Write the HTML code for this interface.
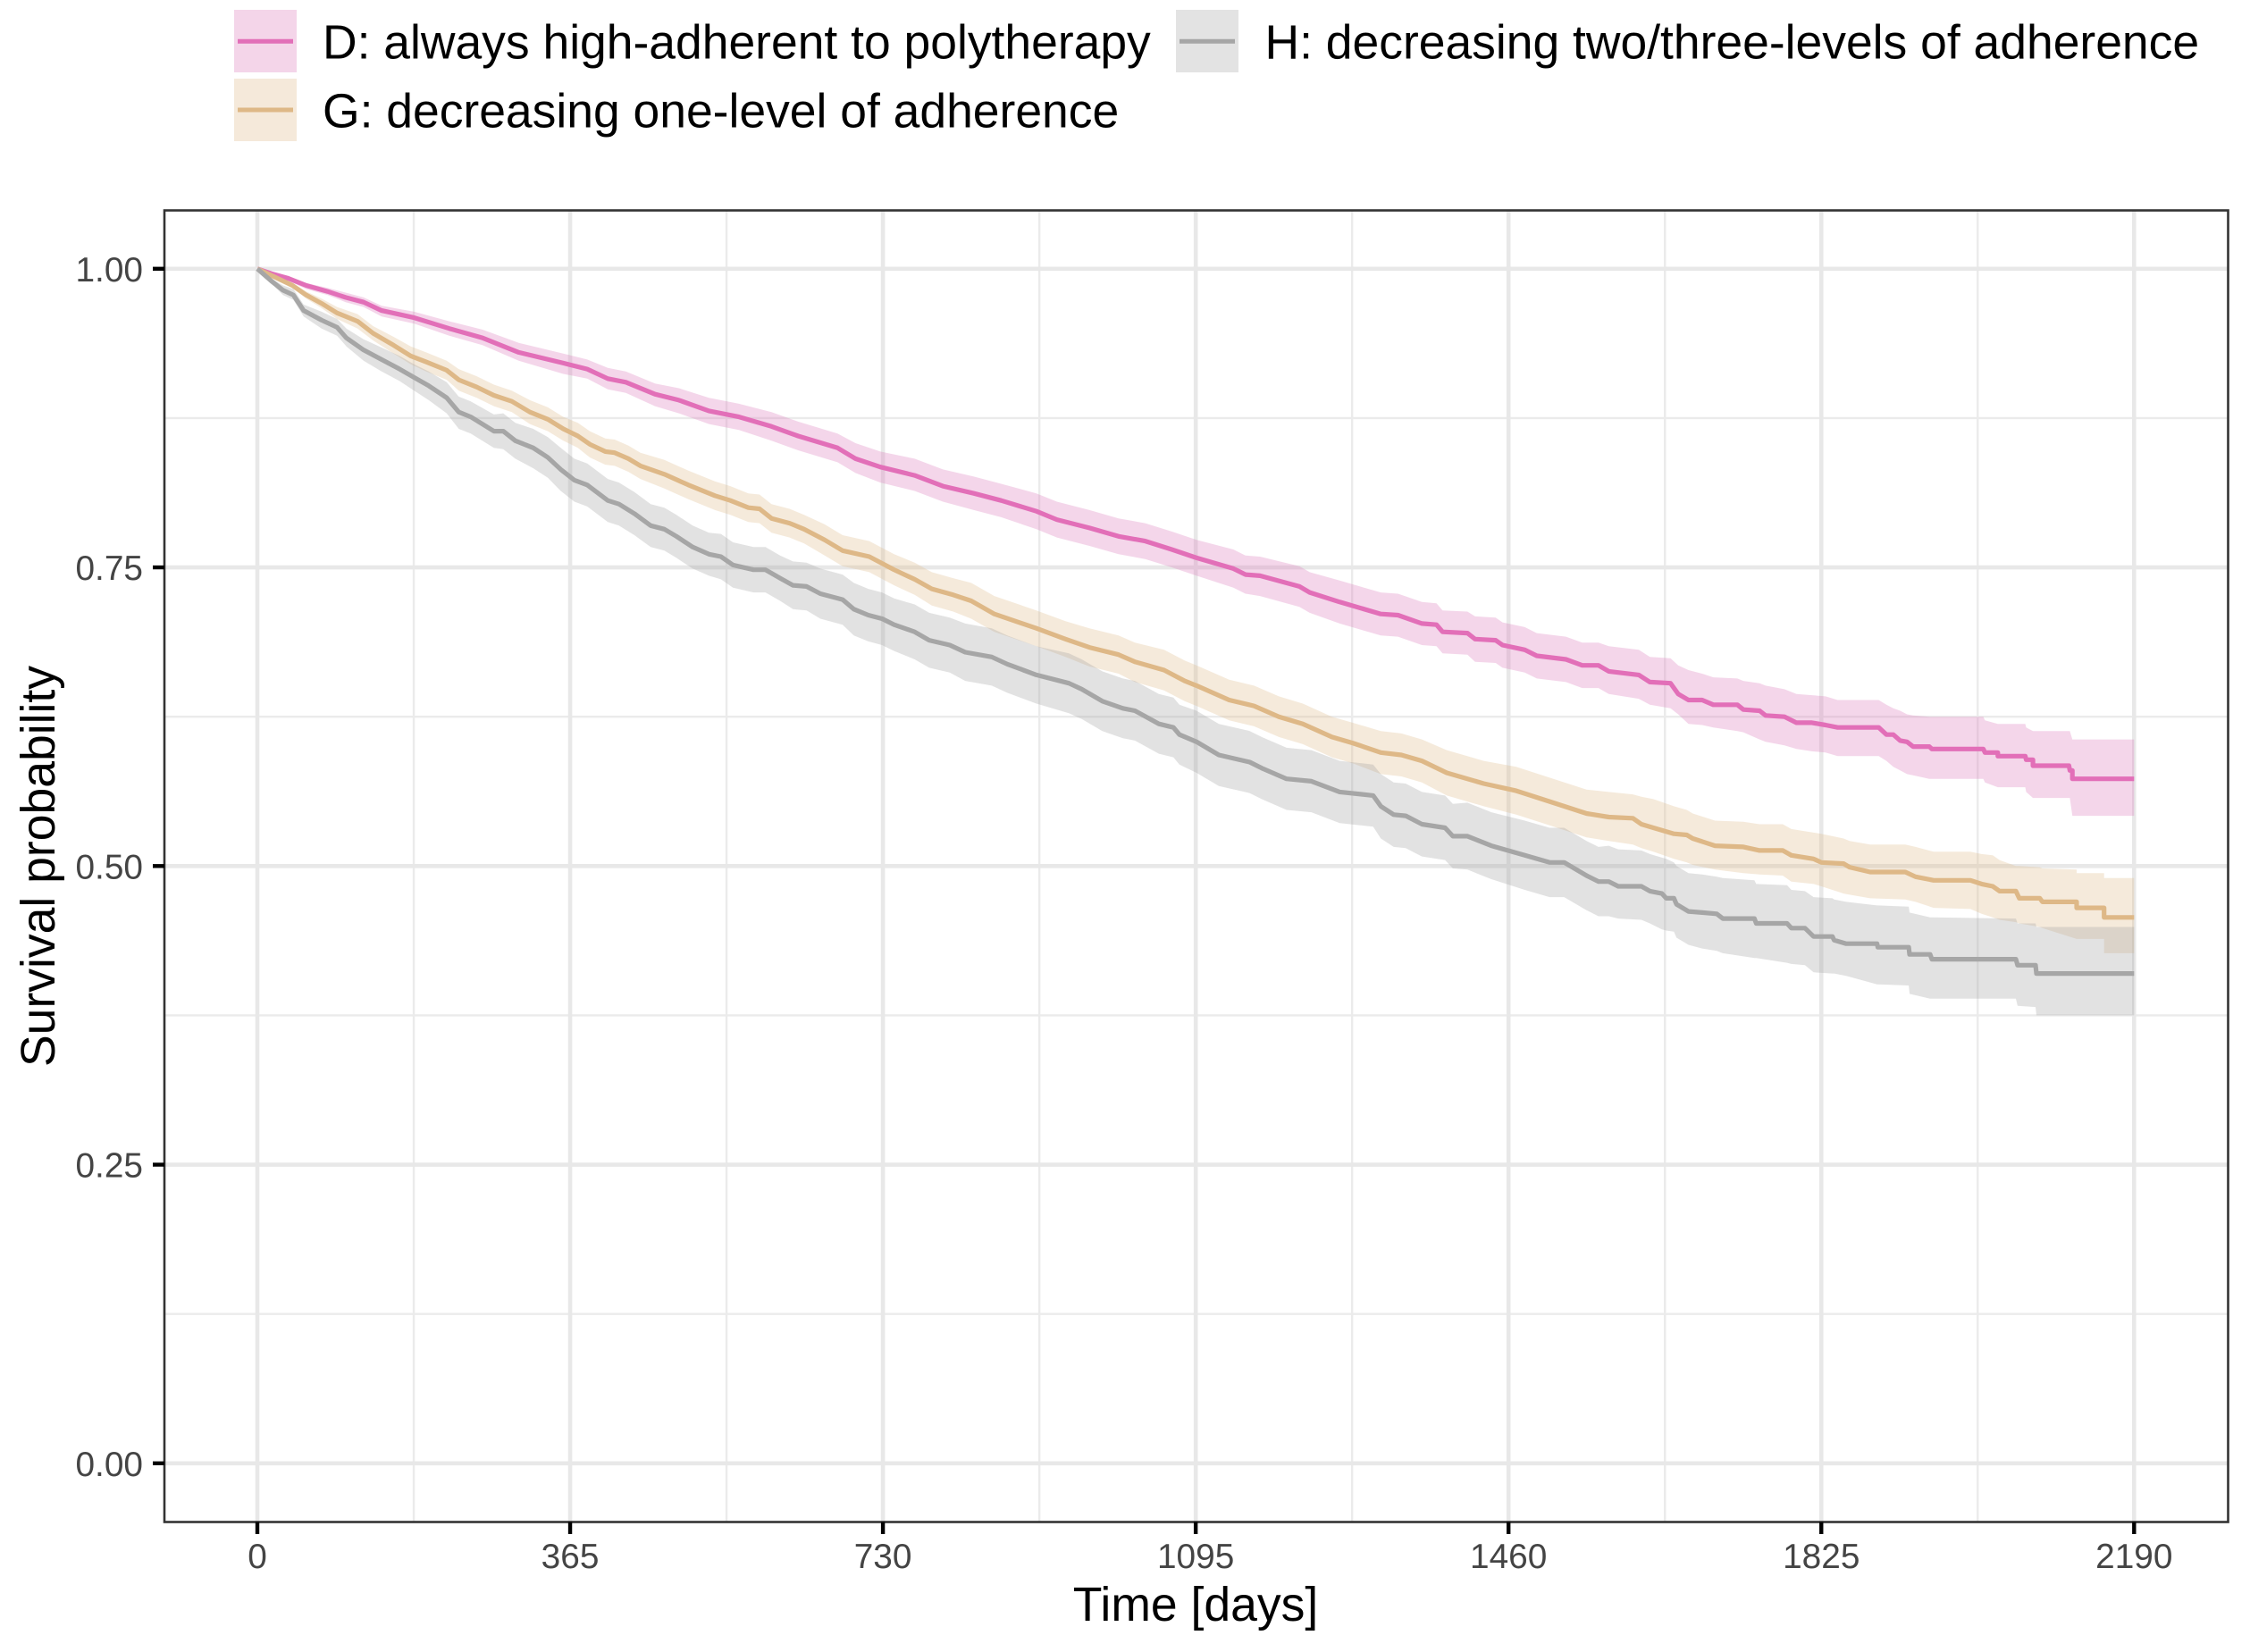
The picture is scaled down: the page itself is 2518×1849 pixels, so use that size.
<!DOCTYPE html>
<html lang="en">
<head>
<meta charset="utf-8">
<title>Survival probability by adherence trajectory</title>
<style>
html,body{margin:0;padding:0;background:#fff;}
svg{display:block;}
text{font-family:"Liberation Sans",Arial,sans-serif;}
</style>
</head>
<body>
<svg id="chart" xmlns="http://www.w3.org/2000/svg" width="2518" height="1849" viewBox="0 0 2518 1849">
  <rect x="0" y="0" width="2518" height="1849" fill="#ffffff"/>
  <g id="grid"></g>
  <g id="bands"></g>
  <g id="lines"></g>
  <rect x="184" y="235.5" width="2309.5" height="1468" fill="none" stroke="#333333" stroke-width="2.6"/>
  <g id="ticks"></g>
  <text x="1338" y="1814" font-size="53.5" text-anchor="middle" fill="#000">Time [days]</text>
  <text transform="translate(61,969.5) rotate(-90)" font-size="53.5" text-anchor="middle" fill="#000">Survival probability</text>
  <g>
    <g>
      <rect x="262" y="11" width="70" height="70" fill="#f4d5e9"/>
      <line x1="266" y1="46.3" x2="328" y2="46.3" stroke="#e26fb8" stroke-width="5"/>
      <text x="361" y="65.7" font-size="53.45" fill="#000">D: always high-adherent to polytherapy</text>
    </g>
    <g>
      <rect x="262" y="88" width="70" height="70" fill="#f5e9da"/>
      <line x1="266" y1="123" x2="328" y2="123" stroke="#deb887" stroke-width="5"/>
      <text x="361" y="142.7" font-size="53.45" fill="#000">G: decreasing one-level of adherence</text>
    </g>
    <g>
      <rect x="1316" y="11" width="70" height="70" fill="#e3e3e3"/>
      <line x1="1320" y1="46.3" x2="1382" y2="46.3" stroke="#a6a6a6" stroke-width="5"/>
      <text x="1415.5" y="65.7" font-size="53.45" fill="#000">H: decreasing two/three-levels of adherence</text>
    </g>
  </g>
</svg>
<script>
const xTickValues = [0, 365, 730, 1095, 1460, 1825, 2190];
const xMinorValues = [182.5, 547.5, 912.5, 1277.5, 1642.5, 2007.5];
const yTickValues = [0, 0.25, 0.5, 0.75, 1];
const yTickLabels = ["0.00", "0.25", "0.50", "0.75", "1.00"];
const yMinorValues = [0.125, 0.375, 0.625, 0.875];

const dDays = [0,16,36,57,82,103,124,145,183,224,263,305,357,385,409,430,464,492,527,562,600,631,677,698,727,767,800,836,868,909,933,971,1005,1036,1067,1096,1139,1153,1170,1216,1228,1263,1311,1331,1359,1376,1383,1412,1421,1445,1453,1479,1493,1527,1546,1565,1577,1612,1625,1649,1658,1670,1686,1699,1727,1734,1753,1760,1782,1796,1814,1830,1844,1892,1901,1909,1917,1925,1932,1951,1954,2014,2016,2031,2031,2063,2064,2072,2072,2114,2115,2118,2118,2190];
const dSurv = [1,.996,.992,.986,.981,.976,.972,.965,.959,.950,.942,.930,.921,.916,.908,.905,.895,.890,.881,.876,.868,.860,.850,.841,.834,.827,.818,.812,.806,.797,.790,.783,.776,.772,.765,.758,.749,.744,.743,.734,.729,.721,.711,.710,.703,.702,.696,.695,.690,.689,.685,.681,.676,.673,.668,.668,.663,.660,.654,.653,.644,.639,.639,.635,.635,.631,.630,.626,.625,.620,.620,.618,.616,.616,.610,.610,.605,.604,.600,.600,.598,.598,.595,.595,.592,.592,.589,.589,.584,.584,.580,.580,.573,.573];
const dLower = [1,.994,.990,.983,.978,.972,.968,.960,.954,.944,.936,.923,.912,.908,.899,.896,.885,.879,.870,.865,.856,.848,.838,.829,.821,.814,.805,.798,.792,.782,.775,.768,.761,.757,.750,.743,.733,.728,.726,.717,.712,.703,.693,.692,.685,.684,.678,.677,.671,.670,.666,.662,.657,.654,.649,.649,.644,.640,.635,.632,.627,.619,.618,.616,.613,.612,.606,.604,.601,.598,.596,.595,.592,.592,.588,.583,.580,.577,.576,.573,.573,.573,.570,.566,.566,.566,.562,.557,.557,.557,.557,.542,.542,.542];
const dUpper = [1,.997,.994,.988,.984,.980,.976,.969,.964,.956,.949,.938,.929,.924,.917,.914,.904,.900,.892,.887,.880,.872,.862,.854,.847,.841,.832,.826,.820,.812,.805,.798,.791,.787,.780,.773,.765,.760,.759,.751,.746,.739,.729,.728,.721,.720,.714,.713,.709,.708,.704,.700,.695,.692,.687,.687,.684,.681,.675,.674,.668,.664,.661,.658,.657,.655,.653,.651,.648,.644,.643,.642,.639,.639,.635,.632,.630,.627,.626,.625,.625,.625,.622,.619,.619,.619,.616,.613,.613,.613,.613,.606,.606,.606];

const gDays = [0,41,57,75,93,117,135,159,179,197,221,235,256,276,297,318,339,357,374,388,406,417,433,447,475,503,534,552,573,586,600,621,638,662,683,714,743,767,787,812,833,860,909,943,971,1005,1024,1058,1082,1096,1134,1163,1192,1220,1254,1278,1311,1335,1359,1388,1431,1469,1508,1551,1577,1605,1615,1629,1653,1668,1675,1701,1734,1753,1780,1790,1816,1825,1851,1858,1882,1923,1935,1956,1999,2012,2025,2033,2052,2056,2080,2083,2123,2123,2155,2155,2190];
const gSurv = [1,.986,.978,.971,.963,.956,.946,.936,.927,.922,.915,.907,.901,.894,.889,.880,.874,.866,.860,.853,.847,.846,.841,.835,.828,.819,.810,.806,.800,.799,.791,.787,.782,.773,.764,.759,.748,.740,.732,.727,.722,.711,.699,.690,.683,.677,.671,.664,.655,.651,.639,.634,.625,.619,.608,.603,.595,.593,.588,.578,.569,.563,.554,.544,.541,.540,.535,.532,.527,.526,.523,.517,.516,.513,.513,.509,.506,.503,.502,.499,.495,.495,.491,.488,.488,.485,.483,.479,.479,.473,.473,.470,.470,.465,.465,.457,.457];
const gLower = [1,.984,.975,.967,.958,.950,.940,.929,.920,.914,.907,.898,.892,.885,.880,.870,.864,.856,.850,.842,.836,.835,.830,.824,.816,.807,.798,.794,.788,.787,.779,.775,.770,.760,.751,.746,.735,.727,.718,.713,.707,.696,.684,.675,.667,.661,.654,.647,.638,.634,.622,.617,.608,.602,.591,.586,.577,.575,.570,.559,.550,.543,.534,.524,.521,.518,.515,.512,.506,.503,.501,.497,.494,.493,.492,.487,.485,.483,.477,.476,.473,.472,.470,.465,.464,.460,.457,.455,.453,.452,.449,.448,.439,.439,.439,.427,.427];
const gUpper = [1,.988,.981,.975,.968,.962,.952,.943,.935,.930,.923,.916,.910,.903,.898,.890,.884,.876,.871,.864,.858,.857,.852,.846,.840,.831,.822,.818,.812,.811,.803,.799,.794,.786,.777,.772,.761,.754,.746,.741,.737,.726,.714,.705,.699,.693,.687,.681,.672,.668,.656,.651,.642,.636,.625,.620,.613,.611,.606,.597,.588,.583,.574,.564,.562,.560,.558,.556,.550,.547,.544,.538,.537,.535,.535,.531,.528,.527,.523,.521,.518,.518,.516,.512,.512,.510,.509,.505,.500,.500,.499,.498,.497,.494,.494,.490,.490];

const hDays = [0,16,30,42,54,75,93,104,124,145,166,183,200,221,235,249,276,287,301,322,339,354,370,385,409,422,440,459,475,489,508,527,541,555,579,593,610,625,641,657,683,696,713,729,743,767,784,808,826,857,875,909,947,962,986,1010,1024,1052,1069,1076,1096,1122,1158,1172,1201,1230,1263,1302,1311,1326,1340,1359,1386,1395,1412,1440,1479,1508,1525,1551,1565,1577,1588,1615,1625,1639,1644,1653,1656,1670,1686,1703,1710,1747,1749,1785,1790,1806,1816,1838,1840,1854,1890,1891,1927,1928,1952,1954,2052,2054,2075,2076,2190];
const hSurv = [1,.990,.982,.978,.965,.957,.951,.942,.932,.924,.916,.909,.902,.892,.880,.876,.864,.864,.856,.850,.842,.832,.823,.819,.806,.803,.795,.785,.782,.776,.767,.761,.759,.752,.748,.748,.741,.735,.734,.728,.723,.715,.710,.707,.702,.696,.689,.685,.679,.675,.669,.660,.653,.648,.638,.632,.630,.619,.616,.610,.604,.593,.587,.582,.573,.571,.562,.559,.550,.543,.542,.535,.532,.525,.525,.517,.509,.503,.503,.492,.487,.487,.483,.483,.479,.477,.473,.473,.468,.462,.461,.460,.456,.456,.452,.452,.448,.448,.441,.441,.438,.435,.435,.432,.432,.426,.426,.422,.422,.417,.417,.410,.410];
const hLower = [1,.988,.978,.974,.960,.950,.944,.935,.923,.914,.906,.898,.890,.879,.866,.862,.850,.849,.841,.833,.825,.814,.805,.801,.788,.785,.777,.767,.764,.758,.749,.743,.740,.733,.729,.729,.722,.715,.714,.707,.702,.693,.688,.685,.680,.673,.666,.662,.655,.651,.645,.636,.628,.623,.613,.607,.605,.594,.591,.585,.578,.567,.561,.556,.547,.545,.536,.533,.523,.516,.515,.508,.505,.498,.497,.489,.480,.474,.474,.463,.458,.458,.456,.455,.452,.447,.446,.445,.440,.434,.431,.429,.427,.423,.423,.419,.418,.417,.411,.410,.410,.408,.401,.401,.400,.393,.389,.389,.389,.383,.382,.375,.375];
const hUpper = [1,.992,.986,.983,.970,.964,.958,.950,.941,.934,.927,.920,.914,.905,.893,.889,.878,.879,.871,.866,.859,.850,.841,.837,.824,.821,.813,.803,.800,.794,.785,.779,.778,.771,.767,.767,.760,.755,.754,.749,.744,.737,.732,.729,.724,.719,.712,.708,.703,.699,.693,.684,.678,.673,.663,.657,.655,.644,.641,.635,.630,.619,.613,.608,.599,.597,.588,.585,.577,.570,.569,.562,.559,.552,.553,.545,.538,.532,.532,.521,.516,.517,.514,.513,.510,.507,.506,.503,.500,.494,.493,.491,.490,.488,.485,.484,.480,.479,.474,.473,.472,.470,.467,.467,.466,.461,.457,.457,.456,.452,.452,.449,.449];

const SVG_NS = "http://www.w3.org/2000/svg";
const X0 = 288, X_PER_DAY = 2100.3 / 2190;
const Y0 = 1637.8, Y_PER_UNIT = 1337;
function xAxis(d) { return X0 + d * X_PER_DAY; }
function yAxis(s) { return Y0 - s * Y_PER_UNIT; }
function make(tag, attrs, parent) {
  const el = document.createElementNS(SVG_NS, tag);
  for (const k in attrs) el.setAttribute(k, attrs[k]);
  parent.appendChild(el);
  return el;
}
const gridG = document.getElementById("grid");
const bandsG = document.getElementById("bands");
const linesG = document.getElementById("lines");
const ticksG = document.getElementById("ticks");
const PANEL_L = 184, PANEL_R = 2493.5, PANEL_T = 235.5, PANEL_B = 1703.5;

xMinorValues.forEach(function (v) {
  const el = make("line", {x1: xAxis(v), x2: xAxis(v), y1: PANEL_T, y2: PANEL_B, stroke: "#ebebeb", "stroke-width": 2.4}, gridG);
  
  
});
yMinorValues.forEach(function (v) {
  const el = make("line", {x1: PANEL_L, x2: PANEL_R, y1: yAxis(v), y2: yAxis(v), stroke: "#ebebeb", "stroke-width": 2.4}, gridG);
  
  
});
xTickValues.forEach(function (v) {
  const el = make("line", {x1: xAxis(v), x2: xAxis(v), y1: PANEL_T, y2: PANEL_B, stroke: "#e8e8e8", "stroke-width": 4.6}, gridG);
  
  
  const tick = make("line", {x1: xAxis(v), x2: xAxis(v), y1: PANEL_B, y2: 1717, stroke: "#000", "stroke-width": 4.4}, ticksG);
  
  
  const label = make("text", {x: xAxis(v), y: 1755, "font-size": 38.8, "text-anchor": "middle", fill: "#444444"}, ticksG);
  label.textContent = String(v);
  
  
});
yTickValues.forEach(function (v, i) {
  const el = make("line", {x1: PANEL_L, x2: PANEL_R, y1: yAxis(v), y2: yAxis(v), stroke: "#e8e8e8", "stroke-width": 4.6}, gridG);
  
  
  const tick = make("line", {x1: 171, x2: PANEL_L, y1: yAxis(v), y2: yAxis(v), stroke: "#000", "stroke-width": 4.4}, ticksG);
  
  
  const label = make("text", {x: 160, y: yAxis(v) + 14, "font-size": 38.8, "text-anchor": "end", fill: "#444444"}, ticksG);
  label.textContent = yTickLabels[i];
  
  
});

function bandPath(days, lower, upper) {
  let p = "";
  for (let i = 0; i < days.length; i++) {
    p += (i ? "L" : "M") + xAxis(days[i]).toFixed(1) + " " + yAxis(upper[i]).toFixed(1);
  }
  for (let i = days.length - 1; i >= 0; i--) {
    p += "L" + xAxis(days[i]).toFixed(1) + " " + yAxis(lower[i]).toFixed(1);
  }
  return p + "Z";
}
function linePath(days, surv) {
  let p = "";
  for (let i = 0; i < days.length; i++) {
    p += (i ? "L" : "M") + xAxis(days[i]).toFixed(1) + " " + yAxis(surv[i]).toFixed(1);
  }
  return p;
}

const bandD = make("path", {d: bandPath(dDays, dLower, dUpper), fill: "#da76b9", "fill-opacity": 0.3}, bandsG);


const bandG = make("path", {d: bandPath(gDays, gLower, gUpper), fill: "#deb887", "fill-opacity": 0.3}, bandsG);


const bandH = make("path", {d: bandPath(hDays, hLower, hUpper), fill: "#a0a0a0", "fill-opacity": 0.3}, bandsG);



const lineD = make("path", {d: linePath(dDays, dSurv), fill: "none", stroke: "#e26fb8", "stroke-width": 5.2, "stroke-linejoin": "round"}, linesG);


const lineG = make("path", {d: linePath(gDays, gSurv), fill: "none", stroke: "#deb887", "stroke-width": 5.2, "stroke-linejoin": "round"}, linesG);


const lineH = make("path", {d: linePath(hDays, hSurv), fill: "none", stroke: "#a6a6a6", "stroke-width": 5.2, "stroke-linejoin": "round"}, linesG);


</script>
</body>
</html>
